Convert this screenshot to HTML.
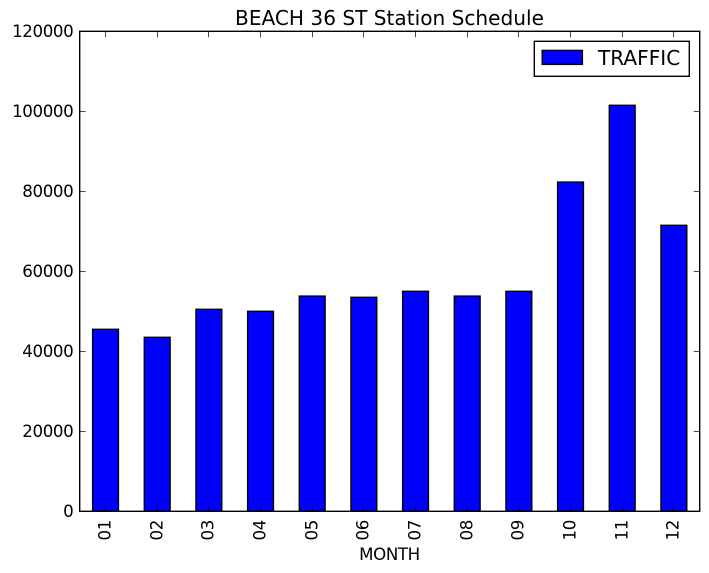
<!DOCTYPE html>
<html>
<head>
<meta charset="utf-8">
<style>
html,body{margin:0;padding:0;background:#fff;width:709px;height:573px;overflow:hidden}
svg{display:block}
text{font-family:"DejaVu Sans",sans-serif;fill:#000}
.tick-text{font-size:16.67px;letter-spacing:-0.4px}
</style>
</head>
<body>
<svg id="chart" width="709" height="573" viewBox="0 0 709 573" xmlns="http://www.w3.org/2000/svg"></svg>
<script>
const months = ['01','02','03','04','05','06','07','08','09','10','11','12'];
const traffic = [45500,43500,50500,50000,53800,53500,55000,53800,55000,82300,101500,71500];
const yTicks = [0,20000,40000,60000,80000,100000,120000];
const seriesName = 'TRAFFIC';
const chartTitle = 'BEACH 36 ST Station Schedule';
const xLabel = 'MONTH';

const plotLeft = 79.7, plotRight = 699.7, plotTop = 31.3, plotBottom = 511.3;
const yMax = 120000;
const barFraction = 0.5;
const edgeWidth = 1.39;
const svg = document.getElementById('chart');
const NS = 'http://www.w3.org/2000/svg';
const xScale = i => plotLeft + (i + 0.5) * (plotRight - plotLeft) / months.length;
const yScale = v => plotBottom - v / yMax * (plotBottom - plotTop);

function make(tag, attrs, text) {
  const el = document.createElementNS(NS, tag);
  for (const k in attrs) el.setAttribute(k, attrs[k]);
  if (text !== undefined) el.textContent = text;
  svg.appendChild(el);
  return el;
}

const band = (plotRight - plotLeft) / months.length;
months.forEach((m, i) => {
  const w = band * barFraction;
  const bar = make('rect', {x: xScale(i) - w / 2, y: yScale(traffic[i]), width: w, height: plotBottom - yScale(traffic[i]), fill: '#0000ff', stroke: '#000', 'stroke-width': edgeWidth});
  
  
});

const frame = make('rect', {x: plotLeft, y: plotTop, width: plotRight - plotLeft, height: plotBottom - plotTop, fill: 'none', stroke: '#000', 'stroke-width': edgeWidth});



months.forEach((m, i) => {
  const x = Math.floor(xScale(i)) + 0.5;
  const t1 = make('line', {x1: x, x2: x, y1: plotBottom, y2: plotBottom - 6, stroke: '#000', 'stroke-width': 0.7});
  
  
  const t2 = make('line', {x1: x, x2: x, y1: plotTop, y2: plotTop + 6, stroke: '#000', 'stroke-width': 0.7});
  
  
  const ly = 540.5;
  const lx = x + 5;
  const lab = make('text', {x: lx, y: ly, class: 'tick-text', transform: 'rotate(-90 ' + lx + ' ' + ly + ')'}, m);
  
  
});

yTicks.forEach(v => {
  const y = Math.floor(yScale(v)) + 0.5;
  const t1 = make('line', {x1: plotLeft, x2: plotLeft + 6, y1: y, y2: y, stroke: '#000', 'stroke-width': 0.7});
  
  
  const t2 = make('line', {x1: plotRight, x2: plotRight - 6, y1: y, y2: y, stroke: '#000', 'stroke-width': 0.7});
  
  
  const lab = make('text', {x: 73.3, y: y + 5.7, class: 'tick-text', 'text-anchor': 'end'}, String(v));
  
  
});

const title = make('text', {x: 389.5, y: 25, 'font-size': 20.1, 'text-anchor': 'middle'}, chartTitle);



const xTitle = make('text', {x: 389.5, y: 560, class: 'tick-text', 'text-anchor': 'middle'}, xLabel);



const legendBox = make('rect', {x: 534.3, y: 41.3, width: 155, height: 35, fill: '#fff', stroke: '#000', 'stroke-width': edgeWidth});


const legendSwatch = make('rect', {x: 542.2, y: 50.4, width: 40.2, height: 14, fill: '#0000ff', stroke: '#000', 'stroke-width': edgeWidth});


const legendText = make('text', {x: 598, y: 65, 'font-size': 20.1}, seriesName);


</script>
</body>
</html>
